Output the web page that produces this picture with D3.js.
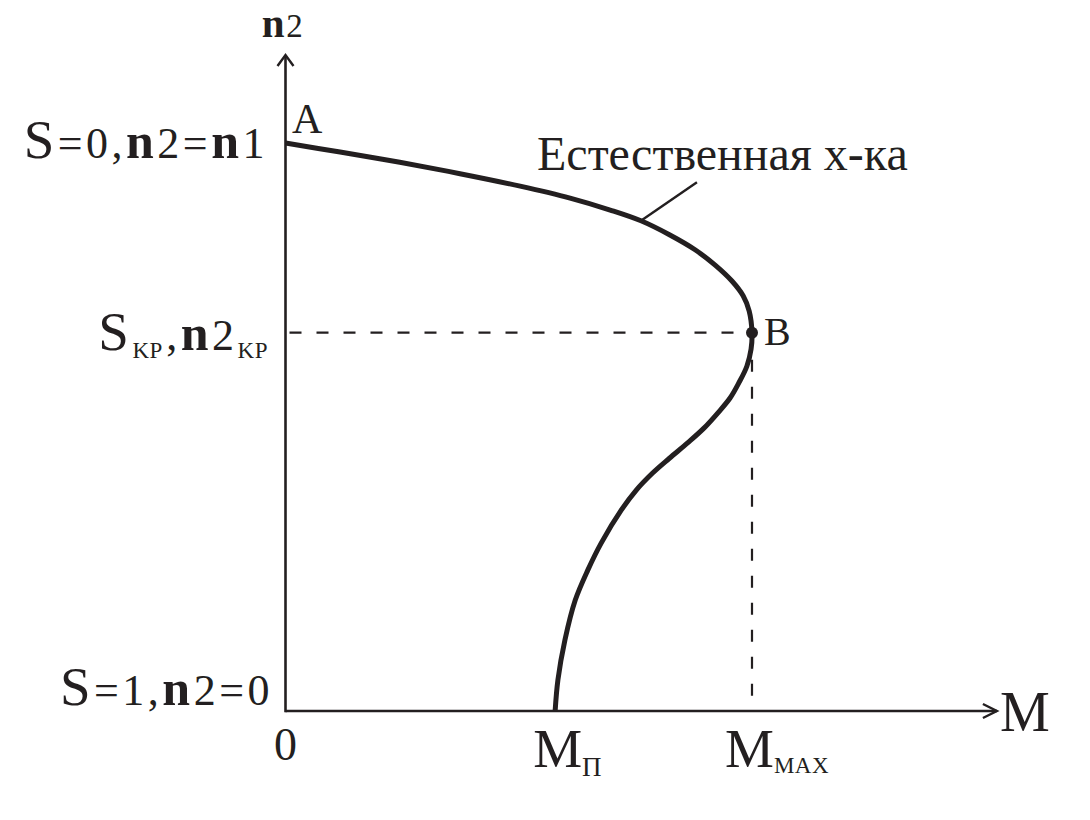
<!DOCTYPE html>
<html>
<head>
<meta charset="utf-8">
<script src="https://cdn.jsdelivr.net/npm/d3@7"></script>
<style>
  html, body { margin: 0; padding: 0; background: #fff; }
  svg { display: block; }
</style>
</head>
<body>
<svg id="chart" width="1090" height="820" font-family="'Liberation Serif', 'Times New Roman', Tinos, 'DejaVu Serif', 'Noto Serif', FreeSerif, serif"></svg>
<script>
// ---- Data (M relative to M_MAX, n2 relative to n1) ----
const curveM  = [0, 0.117, 0.245, 0.374, 0.503, 0.610, 0.696, 0.762, 0.824, 0.878, 0.921, 0.957, 0.981, 0.994, 1.000,
                 0.998, 0.989, 0.972, 0.953, 0.927, 0.897, 0.862, 0.823, 0.787, 0.752, 0.720, 0.677, 0.648, 0.621, 0.599, 0.584, 0.578];
const curveN2 = [1, 0.984, 0.966, 0.946, 0.924, 0.903, 0.882, 0.863, 0.838, 0.812, 0.785, 0.757, 0.731, 0.704, 0.666,
                 0.637, 0.607, 0.578, 0.551, 0.525, 0.498, 0.472, 0.445, 0.419, 0.389, 0.354, 0.296, 0.248, 0.195, 0.125, 0.055, 0];
const pointB = { M: 1.0, n2: 0.666 };
const yLabels = ["S=0,n2=n1", "S_{KP},n2_{KP}", "S=1,n2=0"];
const yLabelValues = [1, 0.666, 0];
const xLabels = ["M_{П}", "M_{MAX}"];
const xLabelValues = [0.578, 1.0];
const curveName = "Естественная х-ка";
const axisNames = { x: "M", y: "n2", origin: "0" };

// ---- Scales ----
const x = d3.scaleLinear().domain([0, 1]).range([285.5, 752]);
const y = d3.scaleLinear().domain([0, 1]).range([711, 143]);
const xMaxAxis = 1.525, yMaxAxis = 1.155;
const ink = "#231f20";

const svg = d3.select("#chart");

// ---- Axes ----
const ax = svg.append("g").attr("stroke", ink).attr("fill", "none").attr("stroke-width", 2.6);
ax.append("line").attr("x1", x(0)).attr("y1", y(0)).attr("x2", x(xMaxAxis)).attr("y2", y(0));
ax.append("line").attr("x1", x(0)).attr("y1", y(0) + 1.3).attr("x2", x(0)).attr("y2", y(yMaxAxis));
ax.append("path").attr("stroke-width", 2.4)
  .attr("d", `M${x(xMaxAxis) - 14},${y(0) - 7}L${x(xMaxAxis)},${y(0)}L${x(xMaxAxis) - 14},${y(0) + 7}`);
ax.append("path").attr("stroke-width", 2.4)
  .attr("d", `M${x(0) - 8},${y(yMaxAxis) + 11}L${x(0)},${y(yMaxAxis)}L${x(0) + 8},${y(yMaxAxis) + 11}`);

// ---- Dashed guide lines ----
const dash = svg.append("g").attr("stroke", ink).attr("stroke-width", 2.2).attr("stroke-dasharray", "12,15");
dash.append("line").attr("x1", x(0) + 4).attr("y1", y(pointB.n2)).attr("x2", x(pointB.M)).attr("y2", y(pointB.n2));
dash.append("line").attr("x1", x(pointB.M)).attr("y1", y(pointB.n2)).attr("x2", x(pointB.M)).attr("y2", y(0));

// ---- Curve ----
const pts = curveM.map((m, i) => [m, curveN2[i]]);
const line = d3.line().x(d => x(d[0])).y(d => y(d[1])).curve(d3.curveCatmullRom.alpha(0.5));
svg.append("path").datum(pts).attr("d", line)
  .attr("fill", "none").attr("stroke", ink).attr("stroke-width", 5).attr("stroke-linecap", "butt");

svg.append("circle").attr("cx", x(pointB.M)).attr("cy", y(pointB.n2)).attr("r", 6).attr("fill", ink);

// ---- Leader line & curve name ----
svg.append("line").attr("x1", x(0.765)).attr("y1", y(0.865)).attr("x2", x(0.882)).attr("y2", y(0.931))
  .attr("stroke", ink).attr("stroke-width", 2.4);
svg.append("text").attr("x", 537).attr("y", 170).attr("font-size", 48).attr("fill", ink).text(curveName);

// ---- Rich label helper: "X_{sub}" and per-character sizing ----
function rich(g, str, opts) {
  const t = g.append("text").attr("x", opts.x).attr("y", opts.y).attr("fill", ink)
    .attr("text-anchor", opts.anchor || "start");
  const parts = [];
  const re = /_\{([^}]*)\}|([^_]+)/g;
  let m;
  while ((m = re.exec(str)) !== null) {
    if (m[1] !== undefined) parts.push({ s: m[1], sub: true });
    else parts.push({ s: m[2], sub: false });
  }
  let shifted = false;
  parts.forEach(p => {
    if (p.sub) {
      t.append("tspan").attr("dy", opts.subDy).attr("font-size", opts.subSize)
        .attr("letter-spacing", 0.5).text(p.s);
      shifted = true;
    } else {
      for (const c of p.s) {
        const ts = t.append("tspan").text(c).attr("letter-spacing", opts.ls || 0);
        if (shifted) { ts.attr("dy", -opts.subDy).attr("dx", opts.ls || 0); shifted = false; }
        if (/[A-ZА-Я]/.test(c)) ts.attr("font-size", opts.capSize);
        else if (c === "n") ts.attr("font-size", opts.nSize).attr("font-weight", "bold");
        else ts.attr("font-size", opts.digitSize);
      }
    }
  });
  return t;
}

const lab = svg.append("g");
const yBase = [158, 350, 705];
const yRight = [268, 268, 273];
yLabels.forEach((s, i) => {
  rich(lab, s, { x: yRight[i], y: yBase[i], anchor: "end", ls: 3.5,
    capSize: 55, nSize: 50, digitSize: 44, subSize: 23, subDy: 8 });
});

const xOff = [-22, -27];
xLabels.forEach((s, i) => {
  rich(lab, s, { x: x(xLabelValues[i]) + xOff[i], y: 767, anchor: "start",
    capSize: 55, nSize: 50, digitSize: 44, subSize: i === 0 ? 27 : 23, subDy: i === 0 ? 9 : 6 });
});

// axis names
rich(lab, axisNames.y, { x: 283, y: 37, anchor: "middle", ls: 1.5, capSize: 40, nSize: 41, digitSize: 33, subSize: 20, subDy: 0 });
lab.append("text").attr("x", x(xMaxAxis) + 3).attr("y", 731).attr("font-size", 56).attr("fill", ink).text(axisNames.x);
lab.append("text").attr("x", x(0)).attr("y", 760).attr("text-anchor", "middle").attr("font-size", 46).attr("fill", ink).text(axisNames.origin);

// point letters
lab.append("text").attr("x", 292).attr("y", 133).attr("font-size", 42).attr("fill", ink).text("A");
lab.append("text").attr("x", x(pointB.M) + 12).attr("y", 345).attr("font-size", 40).attr("fill", ink).text("B");
</script>
</body>
</html>
